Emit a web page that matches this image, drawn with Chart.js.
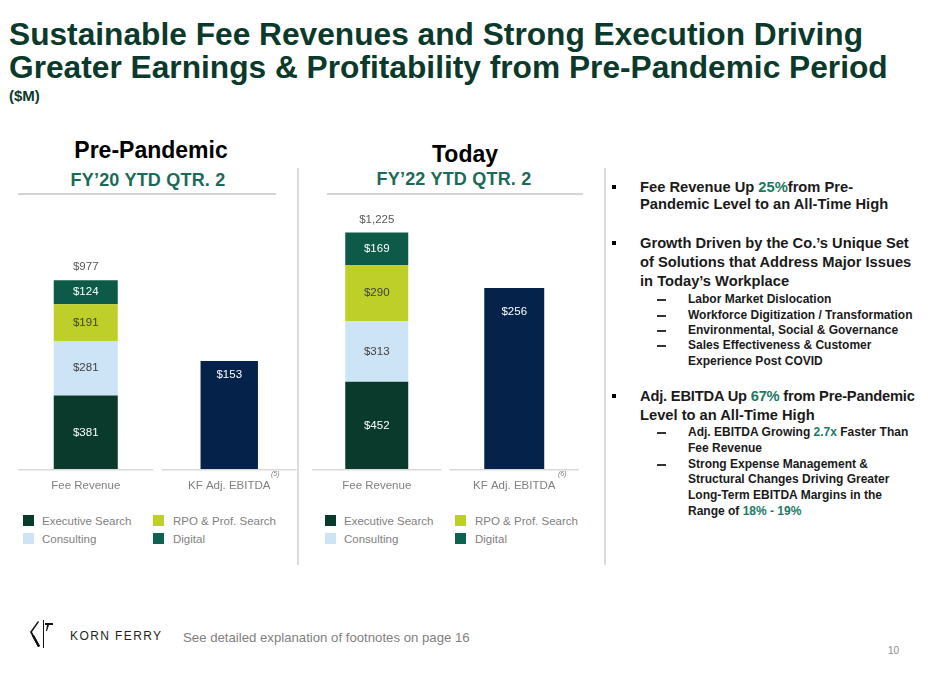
<!DOCTYPE html>
<html>
<head>
<meta charset="utf-8">
<script src="https://cdn.jsdelivr.net/npm/chart.js@4.4.0/dist/chart.umd.min.js"></script>
<style>
  body { margin: 0; background: #fff; font-family: "Liberation Sans", Arial, sans-serif; }
  #page { position: relative; width: 932px; height: 674px; overflow: hidden; }
  .abs { position: absolute; white-space: nowrap; line-height: 1; }
  .title { left: 9px; font-size: 31.7px; font-weight: bold; color: #0b3a2d; }
  .period { width: 300px; text-align: center; font-size: 23px; font-weight: bold; color: #000; }
  .fy { width: 300px; text-align: center; font-size: 18px; font-weight: bold; color: #1b6a57; letter-spacing: 0.2px; }
  .hline { position: absolute; height: 2px; background: #d4d4d4; }
  .vline { position: absolute; width: 2px; background: #dcdcdc; top: 168px; height: 397px; }
  canvas { position: absolute; }
  .sup { font-size: 7px; font-style: italic; color: #7f7f7f; }
  .leg { font-size: 11.5px; color: #7f7f7f; }
  .sw { position: absolute; width: 11px; height: 11px; }
  .main { left: 640px; font-size: 14.7px; font-weight: bold; color: #1a1a1a; }
  .sub { left: 688px; font-size: 12px; font-weight: bold; color: #1a1a1a; }
  .hl { color: #1b7a64; }
  .bullet { position: absolute; left: 612px; width: 4px; height: 4px; background: #000; }
  .dash { position: absolute; left: 657px; width: 9px; height: 1.5px; background: #333; }
</style>
</head>
<body>
<div id="page">
  <div class="abs title" style="top:19px">Sustainable Fee Revenues and Strong Execution Driving</div>
  <div class="abs title" style="top:52px">Greater Earnings &amp; Profitability from Pre-Pandemic Period</div>
  <div class="abs" style="left:9px;top:88px;font-size:15px;font-weight:bold;color:#0b3a2d">($M)</div>

  <div class="abs period" id="period0" style="left:1px;top:139px"></div>
  <div class="abs fy" id="fy0" style="left:-2px;top:171px"></div>
  <div class="abs period" id="period1" style="left:315px;top:143px"></div>
  <div class="abs fy" id="fy1" style="left:304px;top:170px"></div>
  <div class="hline" style="left:18px;width:258px;top:193px"></div>
  <div class="hline" style="left:327px;width:256px;top:193px"></div>
  <div class="vline" style="left:297px"></div>
  <div class="vline" style="left:604px"></div>

  <canvas id="chart0" width="287" height="295" style="left:14px;top:208px"></canvas>
  <canvas id="chart1" width="275" height="295" style="left:308px;top:208px"></canvas>

  <div class="abs sup" id="note0" style="left:271px;top:470px"></div>
  <div class="abs sup" id="note1" style="left:558px;top:470px"></div>

  <div id="legend0"></div>
  <div id="legend1"></div>

  <div class="bullet" style="top:185px"></div>
  <div class="abs main" style="top:180px">Fee Revenue Up <span class="hl">25%</span>from Pre-</div>
  <div class="abs main" style="top:197px">Pandemic Level to an All-Time High</div>

  <div class="bullet" style="top:241px"></div>
  <div class="abs main" style="top:236px">Growth Driven by the Co.’s Unique Set</div>
  <div class="abs main" style="top:255px">of Solutions that Address Major Issues</div>
  <div class="abs main" style="top:274px">in Today’s Workplace</div>
  <div class="dash" style="top:299px"></div>
  <div class="abs sub" style="top:293px">Labor Market Dislocation</div>
  <div class="dash" style="top:315px"></div>
  <div class="abs sub" style="top:309px">Workforce Digitization / Transformation</div>
  <div class="dash" style="top:330px"></div>
  <div class="abs sub" style="top:324px">Environmental, Social &amp; Governance</div>
  <div class="dash" style="top:345px"></div>
  <div class="abs sub" style="top:339px">Sales Effectiveness &amp; Customer</div>
  <div class="abs sub" style="top:355px">Experience Post COVID</div>

  <div class="bullet" style="top:394px"></div>
  <div class="abs main" style="top:389px;letter-spacing:-0.2px">Adj. EBITDA Up <span class="hl">67%</span> from Pre-Pandemic</div>
  <div class="abs main" style="top:408px">Level to an All-Time High</div>
  <div class="dash" style="top:432px"></div>
  <div class="abs sub" style="top:426px">Adj. EBITDA Growing <span class="hl">2.7x</span> Faster Than</div>
  <div class="abs sub" style="top:442px">Fee Revenue</div>
  <div class="dash" style="top:464px"></div>
  <div class="abs sub" style="top:458px">Strong Expense Management &amp;</div>
  <div class="abs sub" style="top:473px">Structural Changes Driving Greater</div>
  <div class="abs sub" style="top:489px">Long-Term EBITDA Margins in the</div>
  <div class="abs sub" style="top:505px">Range of <span class="hl">18% - 19%</span></div>

  <svg style="position:absolute;left:28px;top:619px" width="28" height="30" viewBox="0 0 28 30">
    <polygon points="10,2 11,3 4,13 12,27 10,28 2,13" fill="#111"/>
    <polygon points="6,16 12,27 10,28 4,17" fill="#111"/>
    <rect x="15" y="1" width="1" height="28" fill="#111"/>
    <polygon points="17,4 25,4 25,6 21,6 19,12 18,12 19,6 17,6" fill="#111"/>
  </svg>
  <div class="abs" style="left:70px;top:630px;font-size:12px;letter-spacing:1.4px;color:#231f20">KORN FERRY</div>
  <div class="abs" style="left:183px;top:631px;font-size:13.2px;color:#7f7f7f">See detailed explanation of footnotes on page 16</div>
  <div class="abs" style="left:888px;top:646px;font-size:10px;color:#8c8c8c">10</div>
</div>

<script>
// values in $M, index 0 = pre-pandemic (FY'20 YTD Q2), index 1 = today (FY'22 YTD Q2)
const periods = ['Pre-Pandemic', 'Today'];
const periodLabels = ['FY’20 YTD QTR. 2', 'FY’22 YTD QTR. 2'];
const categories = ['Fee Revenue', 'KF Adj. EBITDA'];
const footnoteRefs = ['(5)', '(6)'];

const segmentNames = ['Executive Search', 'Consulting', 'RPO & Prof. Search', 'Digital'];
const executiveSearch = [381, 452];
const consulting = [281, 313];
const rpoProfSearch = [191, 290];
const digital = [124, 169];
const feeTotals = [977, 1225];
const adjEbitda = [153, 256];

const segmentColors = ['#0a3a2b', '#cde4f7', '#bdcf28', '#0c5a47'];
const labelColors = ['#ffffff', '#404040', '#404040', '#ffffff'];
const ebitdaColor = '#05224a';

const FONT = '"Liberation Sans", Arial, sans-serif';

// split baseline under each category, like the original slide
const baselinePlugin = {
  id: 'baseline',
  afterDatasetsDraw(chart) {
    const x = chart.scales.x;
    const y0 = chart.chartArea.bottom;
    const half = x.width / categories.length / 2 * 0.94;
    const ctx = chart.ctx;
    ctx.save();
    ctx.strokeStyle = '#d9d9d9';
    ctx.lineWidth = 1.5;
    categories.forEach((c, i) => {
      const cx = x.getPixelForValue(i);
      ctx.beginPath();
      ctx.moveTo(cx - half, y0 + 0.5);
      ctx.lineTo(cx + half, y0 + 0.5);
      ctx.stroke();
    });
    ctx.restore();
  }
};

// value labels inside bars and total on top of the stack
const labelPlugin = {
  id: 'valueLabels',
  afterDatasetsDraw(chart, args, opts) {
    const ctx = chart.ctx;
    ctx.save();
    ctx.font = '11.5px ' + FONT;
    ctx.textAlign = 'center';
    ctx.textBaseline = 'middle';
    chart.data.datasets.forEach((ds, di) => {
      const meta = chart.getDatasetMeta(di);
      meta.data.forEach((bar, i) => {
        const v = ds.data[i];
        if (v == null) return;
        let y;
        if (ds.isEbitda) {
          y = bar.y + (bar.base - bar.y) * 0.13;
          ctx.fillStyle = '#ffffff';
        } else {
          y = (bar.y + bar.base) / 2;
          ctx.fillStyle = labelColors[di];
        }
        ctx.fillText('$' + v.toLocaleString('en-US'), bar.x, y);
      });
    });
    const topMeta = chart.getDatasetMeta(segmentNames.length - 1);
    const topBar = topMeta.data[0];
    ctx.fillStyle = '#595959';
    ctx.fillText('$' + opts.total.toLocaleString('en-US'), topBar.x, topBar.y - 13);
    ctx.restore();
  }
};

function buildPanel(p, feePct, ebitdaPct) {
  const segs = [executiveSearch, consulting, rpoProfSearch, digital];
  const datasets = segs.map((arr, k) => ({
    label: segmentNames[k],
    data: [arr[p], null],
    backgroundColor: segmentColors[k],
    yAxisID: 'y',
    barPercentage: feePct,
    categoryPercentage: 1
  }));
  datasets.push({
    label: 'KF Adj. EBITDA',
    data: [null, adjEbitda[p]],
    backgroundColor: ebitdaColor,
    yAxisID: 'y2',
    isEbitda: true,
    barPercentage: ebitdaPct,
    categoryPercentage: 1
  });

  new Chart(document.getElementById('chart' + p), {
    type: 'bar',
    data: { labels: categories, datasets: datasets },
    options: {
      responsive: false,
      animation: false,
      layout: { padding: 0 },
      plugins: {
        legend: { display: false },
        tooltip: { enabled: false },
        valueLabels: { total: feeTotals[p] }
      },
      scales: {
        x: {
          stacked: true,
          grid: { display: false, drawTicks: false },
          border: { display: false },
          ticks: {
            color: '#7f7f7f',
            font: { family: FONT, size: 11.5 },
            padding: 10,
            maxRotation: 0,
            autoSkip: false
          }
        },
        y: { stacked: true, display: false, min: 0, max: 1350 },
        y2: { stacked: true, display: false, min: 0, max: 369 }
      }
    },
    plugins: [baselinePlugin, labelPlugin]
  });

  document.getElementById('period' + p).textContent = periods[p];
  document.getElementById('fy' + p).textContent = periodLabels[p];
  document.getElementById('note' + p).textContent = footnoteRefs[p];

  // legend: two columns, row 1 Exec / RPO, row 2 Consulting / Digital
  const legX = [23, 325][p];
  const order = [0, 2, 1, 3];
  const box = document.getElementById('legend' + p);
  order.forEach((k, n) => {
    const col = n % 2, row = Math.floor(n / 2);
    const left = legX + col * 130, top = 515 + row * 18;
    const sw = document.createElement('div');
    sw.className = 'sw';
    sw.style.left = left + 'px';
    sw.style.top = top + 'px';
    sw.style.background = k === 3 ? '#0e6350' : segmentColors[k];
    box.appendChild(sw);
    const t = document.createElement('div');
    t.className = 'abs leg';
    t.style.left = (left + 19 + (col ? 1 : 0)) + 'px';
    t.style.top = (top + 0.5) + 'px';
    t.textContent = segmentNames[k];
    box.appendChild(t);
  });
}

buildPanel(0, 0.446, 0.40);
buildPanel(1, 0.458, 0.436);
</script>
</body>
</html>
